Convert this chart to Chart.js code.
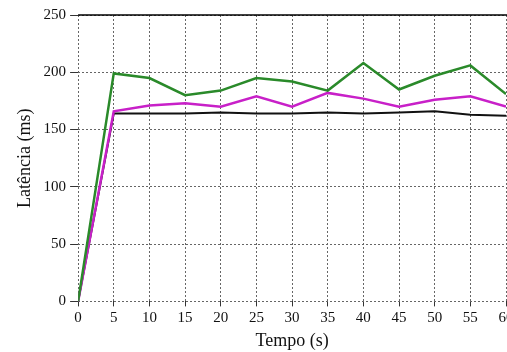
<!DOCTYPE html>
<html>
<head>
<meta charset="utf-8">
<script src="https://cdn.jsdelivr.net/npm/chart.js@4/dist/chart.umd.min.js"></script>
<style>
  html, body { margin: 0; padding: 0; background: #fff; overflow: hidden; }
  #wrap { width: 507px; height: 352px; overflow: hidden; position: relative; }
  #box { width: 530px; height: 352px; position: absolute; left: 0; top: 0; }
</style>
</head>
<body>
<div id="wrap"><div id="box"><canvas id="latencyChart"></canvas></div></div>
<script>
// tempo (s) e latencia (ms)
const tempo   = [0, 5, 10, 15, 20, 25, 30, 35, 40, 45, 50, 55, 60];
const verde   = [0, 199, 195, 180, 184, 195, 192, 184, 208, 185, 197, 206, 181];
const magenta = [0, 166, 171, 173, 170, 179, 170, 182, 177, 170, 176, 179, 170];
const preto   = [0, 164, 164, 164, 165, 164, 164, 165, 164, 165, 166, 163, 162];

const serif = "'Liberation Serif', 'DejaVu Serif', serif";

function toPoints(ys) {
  return ys.map((y, i) => ({ x: tempo[i], y }));
}

// linha solida no topo da area do grafico
const topBorder = {
  id: 'topBorder',
  afterDraw(chart) {
    const { ctx, chartArea } = chart;
    ctx.save();
    ctx.strokeStyle = '#000';
    ctx.lineWidth = 1.5;
    ctx.beginPath();
    ctx.moveTo(chartArea.left, chartArea.top);
    ctx.lineTo(chartArea.right + 2, chartArea.top);
    ctx.stroke();
    ctx.restore();
  },
};

const lineStyle = { borderWidth: 2.5, pointRadius: 0, tension: 0, fill: false };

new Chart(document.getElementById('latencyChart'), {
  type: 'line',
  data: {
    datasets: [
      { label: 'verde',   data: toPoints(verde),   borderColor: '#2a8a2a', ...lineStyle },
      { label: 'magenta', data: toPoints(magenta), borderColor: '#c820c8', ...lineStyle },
      { label: 'preto',   data: toPoints(preto),   borderColor: '#111',    ...lineStyle, borderWidth: 2 },
    ],
  },
  options: {
    responsive: true,
    maintainAspectRatio: false,
    animation: false,
    layout: { padding: { top: 15, right: 24, bottom: 0, left: 14 } },
    plugins: { legend: { display: false }, tooltip: { enabled: false } },
    scales: {
      x: {
        type: 'linear',
        min: 0, max: 60,
        ticks: { stepSize: 5, color: '#111', font: { family: serif, size: 15 }, padding: 3, maxRotation: 0 },
        grid: { color: '#666', lineWidth: 1, tickLength: 5, tickColor: '#333' },
        border: { display: false, dash: [2, 2] },
        title: { display: true, text: 'Tempo (s)', color: '#111', font: { family: serif, size: 18 }, padding: { top: 0, bottom: 0 } },
      },
      y: {
        min: 0, max: 250,
        ticks: { stepSize: 50, color: '#111', font: { family: serif, size: 15 }, padding: 4 },
        grid: { color: '#666', lineWidth: 1, tickLength: 8, tickColor: '#333' },
        border: { display: false, dash: [2, 2] },
        title: { display: true, text: 'Latência (ms)', color: '#111', font: { family: serif, size: 18 }, padding: { top: 0, bottom: 4 } },
      },
    },
  },
  plugins: [topBorder],
});
</script>
</body>
</html>
